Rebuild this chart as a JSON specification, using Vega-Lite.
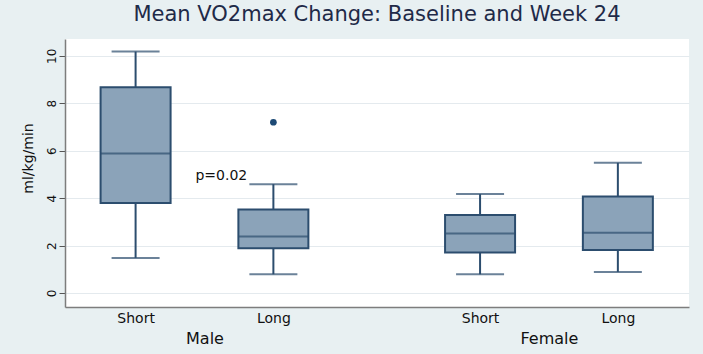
{
  "$schema": "https://vega.github.io/schema/vega-lite/v6.json",
  "autosize": {"type": "none"},
  "width": 624,
  "height": 268,
  "padding": {"left": 65, "top": 39, "right": 14, "bottom": 47},
  "background": "#e8f0f2",
  "config": {
    "view": {"fill": "#ffffff", "stroke": null},
    "font": "DejaVu Sans"
  },
  "title": {
    "text": "Mean VO2max Change: Baseline and Week 24",
    "font": "DejaVu Sans",
    "fontSize": 21,
    "fontWeight": "normal",
    "color": "#1f2a48",
    "anchor": "middle",
    "baseline": "alphabetic",
    "offset": -3
  },
  "layer": [
    {
      "data": {
        "values": [
          {"sex": "Male", "length": "Short", "pos": 1, "lower": 1.48, "q1": 3.8, "median": 5.88, "q3": 8.68, "upper": 10.18},
          {"sex": "Male", "length": "Long", "pos": 2, "lower": 0.79, "q1": 1.89, "median": 2.38, "q3": 3.52, "upper": 4.59},
          {"sex": "Female", "length": "Short", "pos": 3.5, "lower": 0.79, "q1": 1.71, "median": 2.51, "q3": 3.29, "upper": 4.17},
          {"sex": "Female", "length": "Long", "pos": 4.5, "lower": 0.89, "q1": 1.81, "median": 2.54, "q3": 4.07, "upper": 5.49}
        ]
      },
      "encoding": {
        "x": {
          "field": "pos",
          "type": "quantitative",
          "scale": {"domain": [0.524, 4.98], "nice": false, "zero": false},
          "axis": {
            "title": null,
            "values": [1, 1.5, 2, 3.5, 4, 4.5],
            "labelExpr": "datum.value == 1 || datum.value == 3.5 ? 'Short' : datum.value == 2 || datum.value == 4.5 ? 'Long' : datum.value == 1.5 ? ['', 'Male'] : ['', 'Female']",
            "labelFontSize": {"condition": {"test": "datum.value == 1.5 || datum.value == 4", "value": 16}, "value": 14},
            "labelLineHeight": 19,
            "labelBaseline": "top",
            "labelPadding": 4,
            "labelOverlap": false,
            "labelBound": false,
            "labelFlush": false,
            "labelColor": "#111111",
            "ticks": false,
            "grid": false,
            "domainColor": "#7d7d7d",
            "domainWidth": 1.5
          }
        }
      },
      "layer": [
        {
          "mark": {"type": "rule", "color": "#2c4d6e", "strokeWidth": 2},
          "encoding": {
            "y": {
              "field": "lower",
              "type": "quantitative",
              "scale": {"domain": [-0.59, 10.71], "nice": false, "zero": false},
              "axis": {
                "title": "ml/kg/min",
                "titleFont": "DejaVu Sans",
                "titleFontSize": 14,
                "titleFontWeight": "normal",
                "titleColor": "#111111",
                "titleY": 119,
                "titlePadding": 10,
                "values": [0, 2, 4, 6, 8, 10],
                "labelAngle": -90,
                "labelFontSize": 12,
                "labelColor": "#111111",
                "labelPadding": 1,
                "tickSize": 6,
                "tickColor": "#555555",
                "domainColor": "#7d7d7d",
                "domainWidth": 1.5,
                "grid": true,
                "gridColor": "#e4eaee",
                "gridWidth": 1
              }
            },
            "y2": {"field": "upper"}
          }
        },
        {
          "mark": {"type": "tick", "orient": "horizontal", "color": "#2c4d6e", "size": 48, "thickness": 2},
          "encoding": {"y": {"field": "lower", "type": "quantitative"}}
        },
        {
          "mark": {"type": "tick", "orient": "horizontal", "color": "#2c4d6e", "size": 48, "thickness": 2},
          "encoding": {"y": {"field": "upper", "type": "quantitative"}}
        },
        {
          "mark": {"type": "bar", "size": 70, "fill": "#8ba3b9", "stroke": "#2c4d6e", "strokeWidth": 2},
          "encoding": {
            "y": {"field": "q1", "type": "quantitative"},
            "y2": {"field": "q3"}
          }
        },
        {
          "mark": {"type": "tick", "orient": "horizontal", "color": "#2c4d6e", "size": 70, "thickness": 2},
          "encoding": {"y": {"field": "median", "type": "quantitative"}}
        }
      ]
    },
    {
      "data": {"values": [{"sex": "Male", "length": "Long", "pos": 2, "value": 7.2}]},
      "mark": {"type": "point", "filled": true, "size": 45, "color": "#1d4a75", "opacity": 1},
      "encoding": {
        "x": {"field": "pos", "type": "quantitative"},
        "y": {"field": "value", "type": "quantitative"}
      }
    },
    {
      "data": {"values": [{"note": "p=0.02"}]},
      "mark": {"type": "text", "align": "right", "baseline": "middle", "fontSize": 14, "color": "#111111", "font": "DejaVu Sans"},
      "encoding": {
        "x": {"datum": 1.81},
        "y": {"datum": 4.92},
        "text": {"field": "note", "type": "nominal"}
      }
    }
  ]
}
